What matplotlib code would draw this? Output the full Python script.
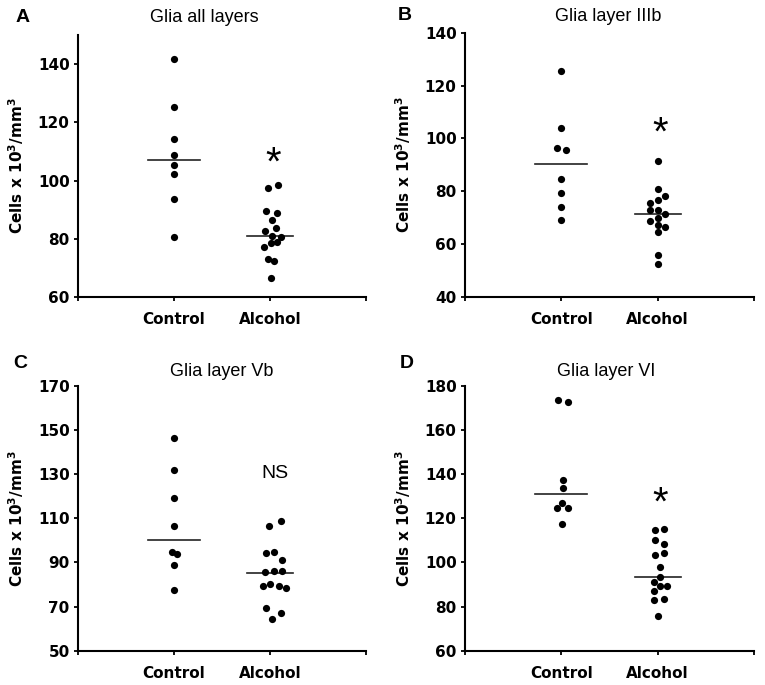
import matplotlib.pyplot as plt
from matplotlib.transforms import offset_copy

# Glial cell density per group (cells x 10^3 / mm^3)
titles = ["Glia all layers", "Glia layer IIIb", "Glia layer Vb", "Glia layer VI"]
letters = ["A", "B", "C", "D"]
marks = ["*", "*", "NS", "*"]
mark_y = [108.5, 105, 130.5, 130.5]
ylims = [(60, 150), (40, 140), (50, 170), (60, 180)]
yticks = [range(60, 141, 20), range(40, 141, 20), range(50, 171, 20), range(60, 181, 20)]

ctrl_a = [141.7, 125.3, 114.2, 108.8, 105.5, 102.4, 93.8, 80.6]
ctrl_a_dx = [0, 0, 0, 0, 0, 0, 0, 0]
alc_a = [98.6, 97.6, 89.4, 89.0, 86.4, 83.6, 82.6, 81.0, 80.6, 78.8, 78.5, 77.2, 72.9, 72.4, 66.5]
alc_a_dx = [0.087, -0.024, -0.042, 0.076, 0.017, 0.062, -0.049, 0.017, 0.111, 0.076, 0.007, -0.062, -0.017, 0.045, 0.007]

ctrl_b = [125.5, 104.0, 96.4, 95.7, 84.6, 79.3, 74.0, 69.0]
ctrl_b_dx = [0, 0, -0.045, 0.052, 0, 0, 0, 0]
alc_b = [91.5, 80.7, 78.2, 76.7, 75.7, 72.9, 72.9, 71.3, 70.0, 68.6, 67.2, 66.5, 64.6, 56.0, 52.4]
alc_b_dx = [0, 0, 0.08, 0, -0.08, -0.08, 0, 0.08, 0, -0.08, 0, 0.08, 0, 0, 0]

ctrl_c = [146.6, 131.9, 119.2, 106.7, 94.6, 93.7, 89.0, 77.4]
ctrl_c_dx = [0, 0, 0, 0, -0.024, 0.035, 0, 0]
alc_c = [108.9, 106.7, 94.6, 94.2, 91.0, 86.1, 86.1, 85.5, 80.4, 79.3, 79.3, 78.3, 69.2, 67.2, 64.4]
alc_c_dx = [0.115, -0.007, 0.045, -0.038, 0.125, 0.045, 0.122, -0.049, -0.003, -0.073, 0.09, 0.17, -0.038, 0.115, 0.017]

ctrl_d = [173.6, 172.6, 137.4, 133.9, 126.8, 124.8, 124.8, 117.4]
ctrl_d_dx = [-0.03, 0.07, 0.02, 0.02, 0.01, -0.045, 0.07, 0.01]
alc_d = [115.2, 114.7, 110.2, 108.2, 104.2, 103.2, 98.1, 93.4, 91.0, 89.3, 89.3, 86.9, 83.4, 82.8, 75.7]
alc_d_dx = [0.062, -0.024, -0.024, 0.062, 0.062, -0.024, 0.024, 0.024, -0.038, 0.024, 0.097, -0.035, 0.069, -0.035, 0.007]

# horizontal lines (group medians)
ctrl_line = [106.9, 90.4, 100.4, 131.0]
alc_line = [80.9, 71.3, 85.4, 93.4]

groups = [(ctrl_a, ctrl_a_dx, alc_a, alc_a_dx),
          (ctrl_b, ctrl_b_dx, alc_b, alc_b_dx),
          (ctrl_c, ctrl_c_dx, alc_c, alc_c_dx),
          (ctrl_d, ctrl_d_dx, alc_d, alc_d_dx)]

W, H = 765, 685
fig = plt.figure(figsize=(W / 100, H / 100), dpi=100)

# axes boxes in pixels: left, top, right, bottom
boxes = [(78, 35, 366, 297), (465, 32.7, 754, 297),
         (78, 386, 366, 650.7), (465, 386, 754, 650.7)]
letter_pos = [(23, 18), (405, 15), (20, 363), (407, 363)]
title_x = [0.4375, 0.495, 0.5, 0.49]
title_y = [1.065, 1.06, 1.053, 1.053]

for i in range(4):
    l, t, r, b = boxes[i]
    ax = fig.add_axes([l / W, 1 - b / H, (r - l) / W, (b - t) / H])
    ctrl, cdx, alc, adx = groups[i]

    ax.scatter([1 + d for d in cdx], ctrl, s=27, color="black", zorder=3, linewidths=0)
    ax.scatter([2 + d for d in adx], alc, s=27, color="black", zorder=3, linewidths=0)
    ax.plot([0.73, 1.27], [ctrl_line[i]] * 2, color="#222222", lw=1.2)
    ax.plot([1.76, 2.24], [alc_line[i]] * 2, color="#222222", lw=1.2)

    if marks[i] == "*":
        tr = offset_copy(ax.transData, fig=fig, y=-8, units="dots")
        ax.text(2.03, mark_y[i], "*", ha="center", va="center", fontsize=29,
                family="Liberation Sans", transform=tr)
    else:
        ax.text(2.05, mark_y[i], "NS", ha="center", va="center", fontsize=14,
                family="Liberation Sans")

    ax.set_xlim(0, 3)
    ax.set_ylim(*ylims[i])
    ax.set_yticks(list(yticks[i]))
    ax.set_xticks([0, 1, 2, 3])
    ax.set_xticklabels(["", "Control", "Alcohol", ""])
    for sp in ["top", "right"]:
        ax.spines[sp].set_visible(False)
    for sp in ["left", "bottom"]:
        ax.spines[sp].set_linewidth(1.5)
    ax.tick_params(axis="y", length=3, width=1.3, pad=3, labelsize=11)
    ax.tick_params(axis="x", length=3, width=1.3, pad=8, labelsize=11)
    for lab in ax.get_xticklabels() + ax.get_yticklabels():
        lab.set_fontweight("bold")

    ax.set_ylabel(r"Cells x 10$^{\mathbf{3}}$/mm$^{\mathbf{3}}$", fontsize=11,
                  fontweight="bold")
    ax.yaxis.set_label_coords(-0.18, 0.5)

    ax.text(title_x[i], title_y[i], titles[i], transform=ax.transAxes,
            ha="center", va="center", fontsize=13, family="Liberation Sans")
    fig.text(letter_pos[i][0] / W, 1 - letter_pos[i][1] / H, letters[i],
             ha="center", va="center", fontsize=14, fontweight="bold",
             family="Liberation Sans")

fig.savefig("out.png", dpi=100)
